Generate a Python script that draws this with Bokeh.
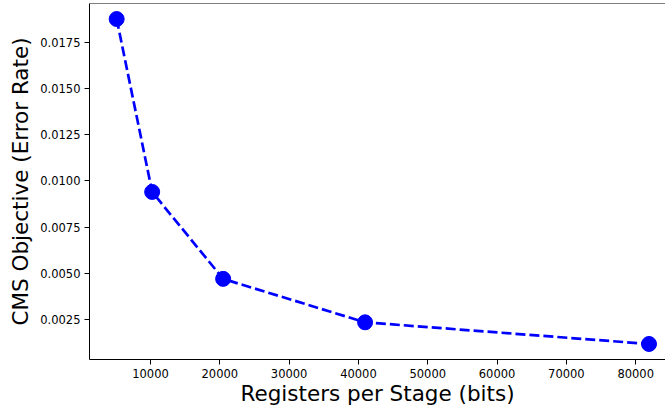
from bokeh.plotting import figure
from bokeh.models import FixedTicker, NumeralTickFormatter, Span, Range1d
from bokeh.embed import file_html
from bokeh.resources import INLINE

registers = [5120, 10240, 20480, 40960, 81920]
error_rate = [0.01875, 0.0094, 0.0047, 0.00235, 0.00118]
x_ticks = [10000, 20000, 30000, 40000, 50000, 60000, 70000, 80000]
y_ticks = [0.0025, 0.0050, 0.0075, 0.0100, 0.0125, 0.0150, 0.0175]

FONT = "DejaVu Sans"
Y_TOP = 0.01959

p = figure(width=665, height=409, output_backend="svg", toolbar_location=None,
           x_range=Range1d(1200, 84300), y_range=Range1d(0.00034, Y_TOP),
           min_border_left=89, min_border_right=0, min_border_top=3, min_border_bottom=50)

p.line(registers, error_rate, line_color="#0000ff", line_width=2.7, line_dash="10 4")
p.scatter(registers, error_rate, size=15, fill_color="#0000ff", line_color="#0000ff")

p.xgrid.visible = False
p.ygrid.visible = False
p.outline_line_color = None
p.add_layout(Span(location=Y_TOP, dimension="width", line_color="black", line_width=1))

p.xaxis.ticker = FixedTicker(ticks=x_ticks)
p.yaxis.ticker = FixedTicker(ticks=y_ticks)
p.yaxis.formatter = NumeralTickFormatter(format="0.0000")

for ax in (p.xaxis, p.yaxis):
    ax.major_tick_in = 0
    ax.major_tick_out = 5
    ax.minor_tick_line_color = None
    ax.axis_line_color = "black"
    ax.major_tick_line_color = "black"
    ax.major_label_text_font = FONT
    ax.major_label_text_font_size = "11.5px"
    ax.major_label_text_color = "black"
    ax.axis_label_text_font = FONT
    ax.axis_label_text_font_size = "21.5px"
    ax.axis_label_text_font_style = "normal"
    ax.axis_label_text_color = "black"

p.xaxis.axis_label = "Registers per Stage (bits)"
p.yaxis.axis_label = "CMS Objective (Error Rate)"
p.xaxis.major_label_standoff = 4
p.yaxis.major_label_standoff = 4
p.xaxis.axis_label_standoff = 0
p.yaxis.axis_label_standoff = 4

open("out.html", "w").write(file_html(p, INLINE))
